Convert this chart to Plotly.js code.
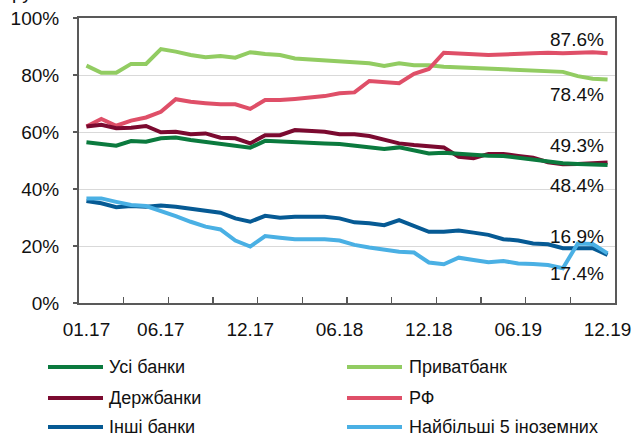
<!DOCTYPE html>
<html>
<head>
<meta charset="utf-8">
<script src="https://cdn.plot.ly/plotly-3.0.1.min.js"></script>
<style>html,body{margin:0;padding:0;background:#fff;}#chart{width:635px;height:436px;}</style>
</head>
<body>
<div id="chart"></div>
<script>
// Months (01.17 .. 12.19)
const months = ["01.17","02.17","03.17","04.17","05.17","06.17","07.17","08.17","09.17","10.17","11.17","12.17",
                "01.18","02.18","03.18","04.18","05.18","06.18","07.18","08.18","09.18","10.18","11.18","12.18",
                "01.19","02.19","03.19","04.19","05.19","06.19","07.19","08.19","09.19","10.19","11.19","12.19"];
const tickLabels = ["01.17","06.17","12.17","06.18","12.18","06.19","12.19"];

const allBanks = [56.4,55.8,55.2,56.8,56.6,57.8,58.1,57.2,56.6,55.8,55.1,54.5,
                  56.9,56.6,56.6,56.2,56.0,55.8,55.2,54.9,54.0,54.6,53.7,52.5,
                  52.7,52.3,51.9,51.7,51.6,51.0,50.4,49.6,49.0,48.8,48.6,48.4];
const privat   = [83.3,80.8,80.8,83.9,83.9,89.1,88.2,87.0,86.2,86.7,86.1,88.0,
                  87.4,87.0,85.8,85.5,85.0,84.6,84.6,84.1,83.2,84.1,83.4,83.4,
                  82.9,82.7,82.3,82.1,81.8,81.7,81.5,81.4,81.1,79.6,78.7,78.4];
const state    = [61.9,62.5,61.3,61.5,62.1,59.9,60.1,59.2,59.5,58.0,57.8,56.0,
                  58.9,58.9,60.7,60.4,60.1,59.2,59.2,58.6,57.2,56.0,55.4,55.1,
                  54.6,51.3,50.8,52.3,52.3,51.6,51.0,49.4,48.7,48.8,49.0,49.3];
const rf       = [61.9,64.6,62.2,64.0,65.1,67.1,71.5,70.6,70.1,69.7,69.7,68.1,
                  71.2,71.2,71.6,72.0,72.6,73.6,73.9,77.9,77.6,77.1,80.4,82.1,
                  87.8,87.4,87.3,87.0,87.3,87.4,87.6,87.8,87.6,87.8,88.0,87.6];
const other    = [35.8,35.0,33.6,34.0,33.8,34.2,33.8,33.0,32.3,31.7,29.7,28.5,
                  30.6,29.9,30.3,30.3,30.3,29.7,28.3,28.0,27.3,29.1,27.0,25.0,
                  25.0,25.4,24.7,23.9,22.4,21.9,20.9,20.6,19.2,19.2,19.2,16.9];
const foreign5 = [36.7,36.7,35.5,34.4,34.0,32.3,30.5,28.5,26.8,25.8,21.9,19.8,
                  23.5,22.9,22.4,22.4,22.4,21.9,20.4,19.5,18.6,18.0,17.7,14.2,
                  13.6,15.9,15.1,14.3,14.7,13.9,13.7,13.3,12.2,20.9,20.7,17.4];

const seriesNames = ["Усі банки","Приватбанк","Держбанки","РФ","Інші банки","Найбільші 5 іноземних"];
const seriesData  = [allBanks, privat, state, rf, other, foreign5];
const seriesColors = ["#0b7a3e","#92cc62","#7b0a30","#df4f68","#065a94","#4ab0e4"];
const drawOrder = [1,3,2,0,4,5];

const idx = months.map((m,i)=>i);
const traces = drawOrder.map(k => ({
  type:'scatter', mode:'lines', name: seriesNames[k],
  x: idx, y: seriesData[k], text: months,
  line:{color: seriesColors[k], width:4},
  showlegend:false, hoverinfo:'text+y'
}));

const endLabels = ["87.6%","78.4%","49.3%","48.4%","16.9%","17.4%"];
const endLabelY = [92.3, 73.3, 55.1, 41.4, 23.5, 10.5];

const FONT = "Liberation Sans, Arial, sans-serif";
const annotations = endLabels.map((t,i)=>({
  xref:'x', yref:'y', x:34.9, y:endLabelY[i], xanchor:'right', yanchor:'middle',
  text:t, showarrow:false, font:{family:FONT, size:19, color:'#111'}
}));
// cut-off text at top left (as in the reference)
annotations.push({xref:'paper', yref:'paper', x:-0.128, y:1.088, xanchor:'left', yanchor:'middle',
  text:'ру', showarrow:false, font:{family:FONT, size:19, color:'#111'}});

// manual legend (2 columns x 3 rows)
const legendOrder = [0,1,2,3,4,5];
const legCols = [[48,103,107],[347,402,407]];
const legRows = [367,398,427];
const W=635, H=436, ML=79, MR=20, MT=18, MB=133;
const pw = W-ML-MR, ph = H-MT-MB;
const px2x = p => (p-ML)/pw;
const py2y = p => (H-MB-p)/ph;
const shapes = [];
legendOrder.forEach((k,j)=>{
  const c = legCols[j%2], r = legRows[Math.floor(j/2)];
  shapes.push({type:'line', xref:'paper', yref:'paper', x0:px2x(c[0]), x1:px2x(c[1]), y0:py2y(r), y1:py2y(r),
    line:{color:seriesColors[k], width:4}});
  annotations.push({xref:'paper', yref:'paper', x:px2x(c[2]), y:py2y(r), xanchor:'left', yanchor:'middle',
    text:seriesNames[k], showarrow:false, font:{family:FONT, size:18, color:'#111'}});
});

const minorTicks = [];
for (let v=2.5; v<35; v+=3) minorTicks.push(v);

const layout = {
  width:W, height:H,
  margin:{l:ML, r:MR, t:MT, b:MB},
  paper_bgcolor:'#fff', plot_bgcolor:'#fff',
  font:{family:FONT, size:19, color:'#111'},
  showlegend:false,
  xaxis:{
    range:[-0.5,35.5], tickmode:'array', tickvals:[0,5,11,17,23,29,35], ticktext:tickLabels,
    ticks:'', showgrid:false, zeroline:false,
    showline:true, linecolor:'#595959', linewidth:2, mirror:true,
    ticklabelstandoff:8, tickfont:{family:FONT, size:19, color:'#111'},
    minor:{tickmode:'array', tickvals:minorTicks, ticks:'inside', ticklen:6, tickwidth:1.5, tickcolor:'#595959', showgrid:false}
  },
  yaxis:{
    range:[0,100], tickmode:'array', tickvals:[0,20,40,60,80,100], ticktext:["0%","20%","40%","60%","80%","100%"],
    ticks:'outside', ticklen:4, tickwidth:1.5, tickcolor:'#595959',
    showgrid:true, gridcolor:'#d9d9d9', gridwidth:1, zeroline:false,
    showline:true, linecolor:'#595959', linewidth:2, mirror:true,
    ticklabelstandoff:10, tickfont:{family:FONT, size:19, color:'#111'}
  },
  annotations: annotations,
  shapes: shapes
};

Plotly.newPlot('chart', traces, layout, {staticPlot:true, displayModeBar:false});
</script>
</body>
</html>
